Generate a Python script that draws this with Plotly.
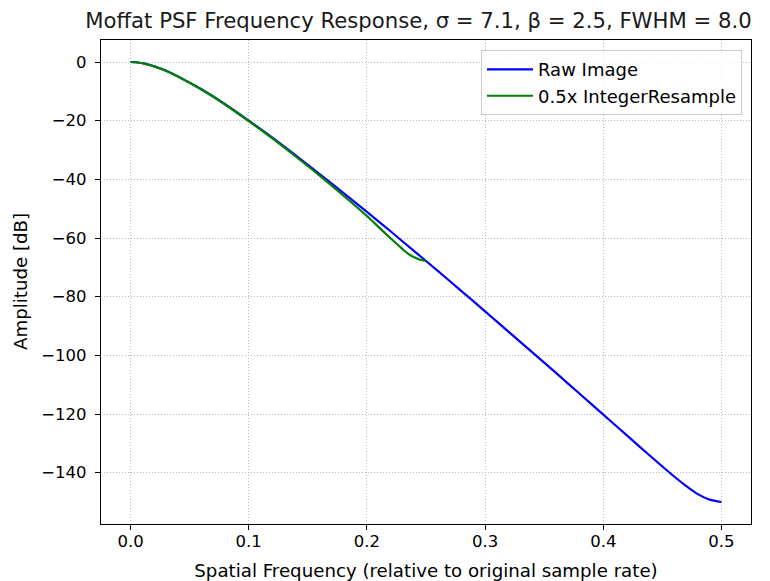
import plotly.graph_objects as go

# Spatial frequency (relative to original sample rate) and amplitude in dB
raw_freq = [0.00, 0.01, 0.02, 0.03, 0.04, 0.06, 0.08, 0.10, 0.12, 0.14, 0.16, 0.18,
            0.20, 0.22, 0.24, 0.26, 0.28, 0.30, 0.32, 0.34, 0.36, 0.38, 0.40,
            0.42, 0.44, 0.46, 0.47, 0.48, 0.49, 0.50]
raw_db = [0.0, -0.4, -1.5, -3.0, -4.9, -9.3, -14.4, -20.0, -25.8, -31.9, -38.2, -44.6,
          -51.1, -57.7, -64.5, -71.2, -78.1, -85.0, -92.0, -99.0, -106.0, -113.1, -120.2,
          -127.3, -134.4, -141.3, -144.5, -147.3, -149.2, -150.0]

res_freq = [0.00, 0.01, 0.02, 0.03, 0.04, 0.06, 0.08, 0.10, 0.12, 0.14, 0.16, 0.18,
            0.20, 0.21, 0.22, 0.23, 0.235, 0.24, 0.245, 0.25]
res_db = [0.0, -0.4, -1.5, -3.0, -4.95, -9.4, -14.5, -20.15, -26.05, -32.3, -38.75, -45.5,
          -52.5, -56.3, -60.1, -63.7, -65.4, -66.6, -67.4, -67.8]

x_ticks = [0.0, 0.1, 0.2, 0.3, 0.4, 0.5]
x_tick_text = ["0.0", "0.1", "0.2", "0.3", "0.4", "0.5"]
y_ticks = [0, -20, -40, -60, -80, -100, -120, -140]
y_tick_text = ["0", "\u221220", "\u221240", "\u221260", "\u221280", "\u2212100", "\u2212120", "\u2212140"]

FONT = "DejaVu Sans"

fig = go.Figure()
fig.add_trace(go.Scatter(x=raw_freq, y=raw_db, mode="lines", name="Raw Image",
                         line=dict(color="#0000ff", width=2.2, shape="spline", smoothing=0.8)))
fig.add_trace(go.Scatter(x=res_freq, y=res_db, mode="lines", name="0.5x IntegerResample",
                         line=dict(color="#008000", width=2.2, shape="spline", smoothing=0.8)))

axis_common = dict(
    showline=True, linecolor="black", linewidth=1.2, mirror=True,
    ticks="outside", ticklen=5, tickwidth=1.2, tickcolor="black",
    showgrid=True, gridcolor="#b8b8b8", gridwidth=1, griddash="1px,2px",
    zeroline=False, automargin=False,
    tickfont=dict(family=FONT, size=16.5, color="black"),
)

fig.update_layout(
    width=762, height=573,
    margin=dict(l=93, r=19, t=32, b=57),
    paper_bgcolor="white", plot_bgcolor="white",
    font=dict(family=FONT, color="black"),
    title=dict(text="Moffat PSF Frequency Response, \u03c3 = 7.1, \u03b2 = 2.5, FWHM = 8.0",
               x=410.5 / 762, xref="container", xanchor="center",
               y=1 - 13 / 573, yref="container", yanchor="middle",
               font=dict(family=FONT, size=21.2, color="#1a1a1a")),
    xaxis=dict(range=[-0.025, 0.525], tickvals=x_ticks, ticktext=x_tick_text,
               ticklabelstandoff=-3,
               title=dict(text="Spatial Frequency (relative to original sample rate)",
                          font=dict(family=FONT, size=18.2, color="black"), standoff=15),
               **axis_common),
    yaxis=dict(range=[-157.5, 7.5], tickvals=y_ticks, ticktext=y_tick_text,
               ticklabelstandoff=5,
               **axis_common),
    legend=dict(x=(742 - 101) / 650, y=0.979, xanchor="right", yanchor="top",
                bgcolor="rgba(255,255,255,0.8)", bordercolor="#cccccc", borderwidth=1,
                itemwidth=46,
                font=dict(family=FONT, size=18, color="black")),
    showlegend=True,
    annotations=[dict(text="Amplitude [dB]", textangle=-90, showarrow=False,
                      xref="paper", yref="paper", x=(20 - 101) / 650, y=0.5,
                      xanchor="center", yanchor="middle",
                      font=dict(family=FONT, size=18.2, color="black"))],
)

fig.write_html("out.html")
